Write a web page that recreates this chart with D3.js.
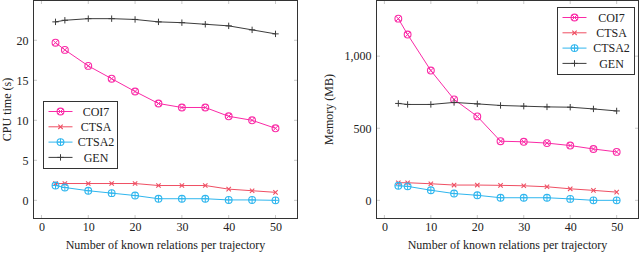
<!DOCTYPE html>
<html>
<head>
<meta charset="utf-8">
<script src="https://cdn.jsdelivr.net/npm/d3@7"></script>
<style>
  body { margin: 0; background: #fff; }
</style>
</head>
<body>
<svg id="chart" width="640" height="253"></svg>
<script>
// x positions shared by both panels
const relations = [3, 5, 10, 15, 20, 25, 30, 35, 40, 45, 50];
const seriesNames = ["COI7", "CTSA", "CTSA2", "GEN"];

// CPU time (s)
const cpuCOI7  = [19.7, 18.8, 16.8, 15.2, 13.6, 12.1, 11.6, 11.6, 10.5, 10.0, 9.0];
const cpuCTSA  = [2.1, 2.1, 2.1, 2.1, 2.1, 1.85, 1.85, 1.85, 1.4, 1.2, 1.0];
const cpuCTSA2 = [1.85, 1.6, 1.2, 0.9, 0.6, 0.2, 0.2, 0.2, 0.05, 0.05, 0.0];
const cpuGEN   = [22.3, 22.5, 22.7, 22.7, 22.6, 22.3, 22.2, 22.0, 21.8, 21.3, 20.8];

// Memory (MB)
const memCOI7  = [1260, 1150, 900, 700, 582, 410, 406, 397, 380, 356, 336];
const memCTSA  = [122, 122, 115, 106, 106, 104, 101, 94, 80, 69, 57];
const memCTSA2 = [101, 97, 70, 47, 35, 18, 18, 18, 10, 0, 0];
const memGEN   = [672, 665, 665, 679, 669, 658, 653, 648, 646, 634, 620];

const xTicks = [0, 10, 20, 30, 40, 50];
const cpuTicks = [0, 5, 10, 15, 20];
const memTicks = [0, 500, 1000];

const colors = {
    COI7: "#fa2aa6",
    CTSA: "#ef4f63",
    CTSA2: "#2fb6ee",
    GEN: "#3c3c3c"
};
const FONT = "Liberation Serif, Times New Roman, serif";

const svg = d3.select("#chart");

// pgfplots-like enlarged limits (10%)
function enlarged(lo, hi) {
    const pad = (hi - lo) * 0.1;
    return [lo - pad, hi + pad];
}

function drawMarker(g, name, x, y) {
    const c = colors[name];
    if (name === "COI7" || name === "CTSA2") {
        const r = 3.4;
        g.append("circle").attr("cx", x).attr("cy", y).attr("r", r)
            .attr("fill", "none").attr("stroke", c).attr("stroke-width", 1.1);
        if (name === "COI7") {
            const d = r * Math.SQRT1_2;
            g.append("path")
                .attr("d", `M${x - d},${y - d}L${x + d},${y + d}M${x - d},${y + d}L${x + d},${y - d}`)
                .attr("stroke", c).attr("stroke-width", 1);
        } else {
            g.append("path")
                .attr("d", `M${x - r},${y}L${x + r},${y}M${x},${y - r}L${x},${y + r}`)
                .attr("stroke", c).attr("stroke-width", 1);
        }
    } else if (name === "CTSA") {
        const d = 2.2;
        g.append("path")
            .attr("d", `M${x - d},${y - d}L${x + d},${y + d}M${x - d},${y + d}L${x + d},${y - d}`)
            .attr("stroke", c).attr("stroke-width", 1.1);
    } else {
        const d = 3.2;
        g.append("path")
            .attr("d", `M${x - d},${y}L${x + d},${y}M${x},${y - d}L${x},${y + d}`)
            .attr("stroke", c).attr("stroke-width", 1);
    }
}

function label(g) {
    return g.append("text").attr("font-family", FONT).attr("font-size", 12).attr("fill", "#222");
}

function drawPanel(p) {
    const x = d3.scaleLinear().domain(enlarged(3, 50)).range([p.left, p.right]);
    const yExt = d3.extent(p.series.flat());
    const y = d3.scaleLinear().domain(enlarged(yExt[0], yExt[1])).range([p.bottom, p.top]);

    const g = svg.append("g");

    // ticks on all four sides, inside the box
    const tl = 3.5;
    xTicks.forEach(t => {
        g.append("line").attr("x1", x(t)).attr("x2", x(t)).attr("y1", p.bottom).attr("y2", p.bottom - tl)
            .attr("stroke", "#bbb").attr("stroke-width", 0.8);
        g.append("line").attr("x1", x(t)).attr("x2", x(t)).attr("y1", p.top).attr("y2", p.top + tl)
            .attr("stroke", "#bbb").attr("stroke-width", 0.8);
    });
    p.yTicks.forEach(t => {
        g.append("line").attr("x1", p.left).attr("x2", p.left + tl).attr("y1", y(t)).attr("y2", y(t))
            .attr("stroke", "#bbb").attr("stroke-width", 0.8);
        g.append("line").attr("x1", p.right).attr("x2", p.right - tl).attr("y1", y(t)).attr("y2", y(t))
            .attr("stroke", "#bbb").attr("stroke-width", 0.8);
    });

    // tick labels via d3 axes, with the domain and tick lines hidden
    const xAxis = g.append("g").attr("transform", `translate(0,${p.bottom})`)
        .call(d3.axisBottom(x).tickValues(xTicks).tickSize(0).tickPadding(4));
    const yAxis = g.append("g").attr("transform", `translate(${p.left},0)`)
        .call(d3.axisLeft(y).tickValues(p.yTicks).tickSize(0).tickPadding(5).tickFormat(p.fmt));
    [xAxis, yAxis].forEach(a => {
        a.attr("font-family", FONT).attr("font-size", 12);
        a.select(".domain").remove();
        a.selectAll("text").attr("fill", "#222");
    });

    // lines and markers
    seriesNames.forEach((name, i) => {
        const vals = p.series[i];
        const line = d3.line().x((d, j) => x(relations[j])).y(d => y(d));
        g.append("path").datum(vals).attr("d", line)
            .attr("fill", "none").attr("stroke", colors[name]).attr("stroke-width", 1);
        vals.forEach((v, j) => drawMarker(g, name, x(relations[j]), y(v)));
    });

    // frame
    g.append("rect").attr("x", p.left).attr("y", p.top)
        .attr("width", p.right - p.left).attr("height", p.bottom - p.top)
        .attr("fill", "none").attr("stroke", "#333").attr("stroke-width", 1);

    // axis titles
    label(g).attr("x", (p.left + p.right) / 2).attr("y", 249)
        .attr("text-anchor", "middle")
        .text("Number of known relations per trajectory");
    label(g).attr("transform", `translate(${p.yLabelX},${(p.top + p.bottom) / 2}) rotate(-90)`)
        .attr("text-anchor", "middle")
        .text(p.yLabel);

    // legend
    const lg = g.append("g").attr("transform", `translate(${p.legX},${p.legY})`);
    lg.append("rect").attr("width", p.legW).attr("height", 67)
        .attr("fill", "#fff").attr("stroke", "#333").attr("stroke-width", 1);
    seriesNames.forEach((name, i) => {
        const yy = 10 + i * 15.3;
        lg.append("line").attr("x1", 5).attr("x2", 29).attr("y1", yy).attr("y2", yy)
            .attr("stroke", colors[name]).attr("stroke-width", 1);
        drawMarker(lg, name, 17, yy);
        label(lg).attr("x", 31 + (p.legW - 31) / 2).attr("y", yy + 4.3)
            .attr("text-anchor", "middle")
            .text(name);
    });
}

drawPanel({
    left: 33.5, right: 297.5, top: 0.5, bottom: 218.5,
    series: [cpuCOI7, cpuCTSA, cpuCTSA2, cpuGEN],
    yTicks: cpuTicks, fmt: d3.format("d"),
    yLabel: "CPU time (s)", yLabelX: 11,
    legX: 43.5, legY: 101.5, legW: 74
});

drawPanel({
    left: 376.5, right: 638.5, top: 0.5, bottom: 218.5,
    series: [memCOI7, memCTSA, memCTSA2, memGEN],
    yTicks: memTicks, fmt: d3.format(","),
    yLabel: "Memory (MB)", yLabelX: 333,
    legX: 557.5, legY: 7.5, legW: 77
});
</script>
</body>
</html>
